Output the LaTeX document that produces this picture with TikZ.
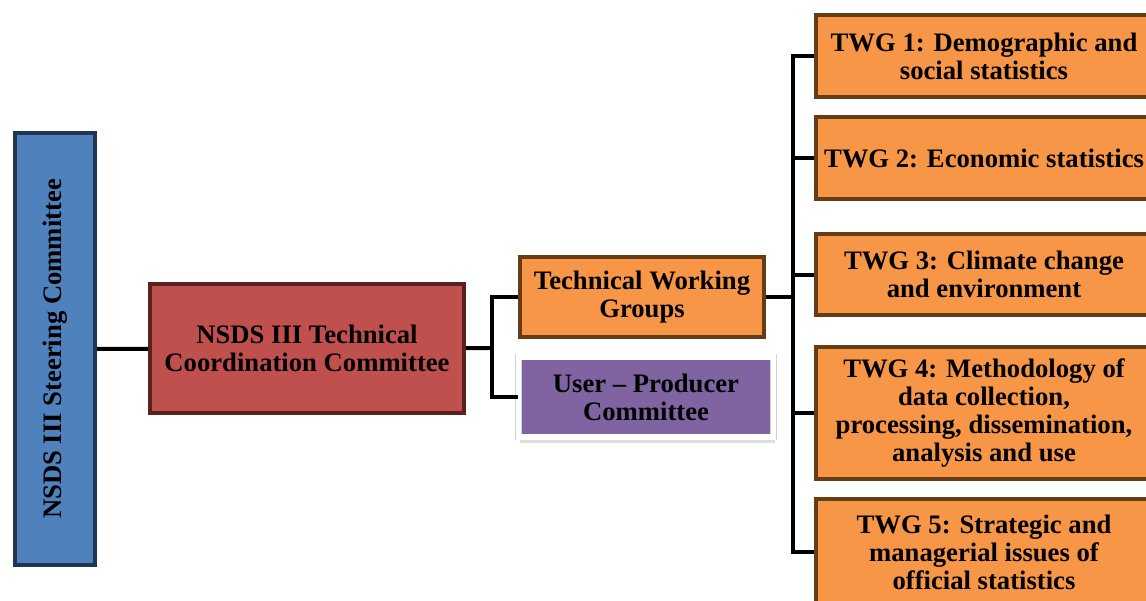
\documentclass[tikz,border=0pt]{standalone}
\usepackage{fontspec}
\setmainfont{Liberation Serif}
\usepackage{tikz}
\usetikzlibrary{shadows}
\definecolor{steerblue}{HTML}{4F81BD}
\definecolor{steerdark}{HTML}{213653}
\definecolor{tccred}{HTML}{C0504D}
\definecolor{tccdark}{HTML}{5B2120}
\definecolor{twgorange}{HTML}{F79646}
\definecolor{twgbrown}{HTML}{663C17}
\definecolor{upcpurple}{HTML}{8064A2}
\tikzstyle{box}=[rectangle, line width=3pt, align=center, inner sep=0pt, font=\bfseries\fontsize{20}{21}\selectfont]
\tikzstyle{boxblue}=[box, fill=steerblue, draw=steerdark]
\tikzstyle{boxred}=[box, fill=tccred, draw=tccdark]
\tikzstyle{boxorange}=[box, fill=twgorange, draw=twgbrown]
\tikzstyle{boxpurple}=[box, fill=upcpurple, draw=gray!35, double=white, double distance=4pt, line width=0.6pt, drop shadow={opacity=0.25, shadow xshift=1pt, shadow yshift=-4.5pt}]
\tikzstyle{wire}=[draw=black, line width=3pt]
\tikzstyle{elbow}=[to path={|- (\tikztotarget)}]

\begin{document}
\begin{tikzpicture}[x=0.75pt, y=-0.75pt]
		   \useasboundingbox (0,0) rectangle (1146,600);
		   \begin{scope}
			   \node (steer) at (55, 349) [boxblue, rotate=90, minimum width=324pt, minimum height=60pt] {NSDS III Steering Committee};
			   \node (tcc) at (307, 348.5) [boxred, minimum width=235.5pt, minimum height=96.75pt] {NSDS III Technical\\Coordination Committee};
			   \node (twg) at (642, 297) [boxorange, minimum width=183pt, minimum height=60pt] {Technical Working\\Groups};
			   \node (upc) at (646, 397) [boxpurple, minimum width=191pt, minimum height=60pt] {User -- Producer\\Committee};

			   \node (t1) at (984, 56) [boxorange, minimum width=252pt, minimum height=61.5pt] {TWG 1: Demographic and\\social statistics};
			   \node (t2) at (984, 158) [boxorange, minimum width=252pt, minimum height=61.5pt] {TWG 2: Economic statistics};
			   \node (t3) at (984, 274.5) [boxorange, minimum width=252pt, minimum height=60.75pt] {TWG 3: Climate change\\and environment};
			   \node (t4) at (984, 413) [boxorange, minimum width=252pt, minimum height=99pt] {TWG 4: Methodology of\\data collection,\\processing, dissemination,\\analysis and use};
			   \node (t5) at (984, 552) [boxorange, minimum width=252pt, minimum height=79.5pt] {TWG 5: Strategic and\\managerial issues of\\official statistics};

			   \coordinate (j1) at (492, 348);
			   \coordinate (j2) at (793, 297);
		   \end{scope}
		   \begin{scope}
			   \path [wire] (steer) edge (tcc);
			   \path [wire] (tcc) edge (j1);
			   \path [wire] (j1) edge[elbow] (twg);
			   \path [wire] (j1) edge[elbow] (upc);

			   \path [wire] (twg) edge (j2);
			   \path [wire] (j2) edge[elbow] (t1);
			   \path [wire] (j2) edge[elbow] (t2);
			   \path [wire] (j2) edge[elbow] (t3);
			   \path [wire] (j2) edge[elbow] (t4);
			   \path [wire] (j2) edge[elbow] (t5);
		   \end{scope}
\end{tikzpicture}
\end{document}
